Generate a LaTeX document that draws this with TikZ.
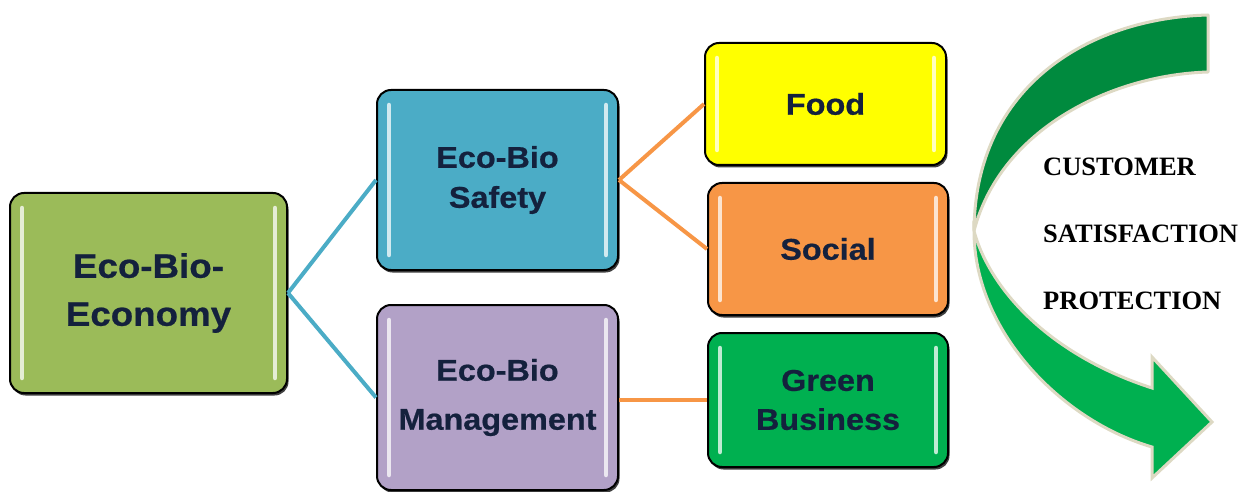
\documentclass[tikz,border=0pt]{standalone}
\usepackage{fontspec}
\newfontfamily\arialf{Liberation Sans}[FakeStretch=1.08, BoldFeatures={FakeBold=0.6}]
\newfontfamily\timesf{Liberation Serif}
\usetikzlibrary{shadows}
\definecolor{txtnavy}{HTML}{14213D}
\definecolor{ecogreen}{HTML}{9BBB59}
\definecolor{safblue}{HTML}{4BACC6}
\definecolor{mgmtpurple}{HTML}{B2A1C7}
\definecolor{foodyellow}{HTML}{FFFF00}
\definecolor{socorange}{HTML}{F79646}
\definecolor{busgreen}{HTML}{00B050}
\definecolor{arrdark}{HTML}{008A3E}
\definecolor{arrlight}{HTML}{00B050}
\definecolor{arrborder}{HTML}{DDD9C3}
\tikzset{
  boxnode/.style={draw=black, line width=2pt, rounded corners=14pt,
    text=txtnavy, align=center, inner sep=0pt,
    drop shadow={shadow xshift=1.5pt, shadow yshift=-2.5pt, fill=black, opacity=0.75}},
  gloss/.style={white, line width=4.5pt, opacity=0.75, line cap=round},
  conn/.style={line width=4pt},
  sidetext/.style={font=\timesf\bfseries\fontsize{26.5}{30}\selectfont, anchor=west, text=black, inner sep=0pt},
}
\newcommand\glossbox[1]{%
  \draw[gloss] ([xshift=13,yshift=-16]#1.north west) -- ([xshift=13,yshift=16]#1.south west);
  \draw[gloss] ([xshift=-13,yshift=-16]#1.north east) -- ([xshift=-13,yshift=16]#1.south east);
}
\begin{document}
\begin{tikzpicture}[x=1pt,y=1pt]
\useasboundingbox (0,0) rectangle (1243,-492);

\node[boxnode, fill=ecogreen, minimum width=277pt, minimum height=200pt,
  font=\arialf\bfseries\fontsize{34}{48}\selectfont] (eco) at (148.5,-293) {Eco-Bio-\\Economy};
\node[boxnode, fill=safblue, minimum width=241pt, minimum height=180pt,
  font=\arialf\bfseries\fontsize{30}{40}\selectfont] (saf) at (497.5,-180) {Eco-Bio\\Safety};
\node[boxnode, fill=mgmtpurple, minimum width=241pt, minimum height=185pt,
  font=\arialf\bfseries\fontsize{30}{49}\selectfont] (mgmt) at (497.5,-397.5) {Eco-Bio\\Management};
\node[boxnode, fill=foodyellow, minimum width=241pt, minimum height=122pt,
  font=\arialf\bfseries\fontsize{30}{40}\selectfont] (food) at (825.5,-104) {Food};
\node[boxnode, fill=socorange, minimum width=240pt, minimum height=132pt,
  font=\arialf\bfseries\fontsize{30}{40}\selectfont] (soc) at (828,-249) {Social};
\node[boxnode, fill=busgreen, minimum width=240pt, minimum height=134pt,
  font=\arialf\bfseries\fontsize{30}{39}\selectfont] (bus) at (828,-400) {Green\\Business};

\foreach \n in {eco,saf,mgmt,food,soc,bus} {\glossbox{\n}}

\draw[conn, safblue] (eco.east) -- (saf.west);
\draw[conn, safblue] (eco.east) -- (mgmt.west);
\draw[conn, socorange] (saf.east) -- (food.west);
\draw[conn, socorange] (saf.east) -- (soc.west);
\draw[conn, socorange] (bus.west -| mgmt.east) -- (bus.west);

% curved arrow
\filldraw[fill=arrdark, draw=arrborder, line width=3pt, line join=round]
  (1208,-15) .. controls (1090,-18) and (975,-85) .. (974,-231)
  .. controls (1000,-130) and (1110,-75) .. (1208,-72) -- cycle;
\filldraw[fill=arrlight, draw=arrborder, line width=3pt, line join=miter]
  (974,-231) .. controls (974,-330) and (1060,-420) .. (1152,-447)
  -- (1152,-478) -- (1212,-422) -- (1152,-357) -- (1152,-388)
  .. controls (1050,-355) and (990,-290) .. (974,-231) -- cycle;

\node[sidetext] (cust) at (1043,-167) {CUSTOMER};
\node[sidetext] (sat) at (1043,-234) {SATISFACTION};
\node[sidetext] (prot) at (1043,-301) {PROTECTION};
\end{tikzpicture}
\end{document}
